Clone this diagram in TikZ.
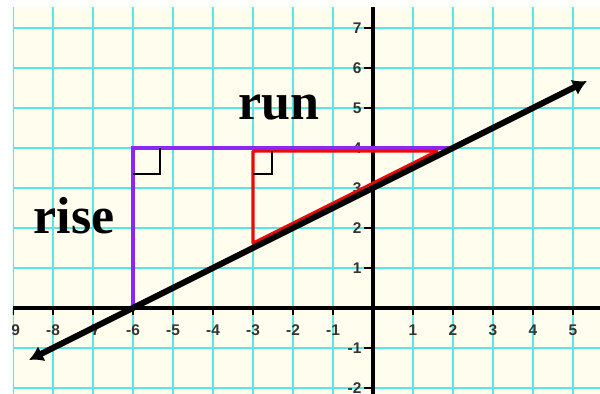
\documentclass[tikz,border=0pt]{standalone}
\usepackage{fontspec}
\setmainfont{Liberation Serif}
\newfontfamily\axisfont{Liberation Sans}
\usepackage{xcolor}
\usepackage{tikz}
\usetikzlibrary{arrows.meta}
\definecolor{paper}{RGB}{255,254,238}
\definecolor{gridcyan}{RGB}{90,230,230}
\definecolor{risepurple}{RGB}{140,40,245}
\definecolor{runred}{RGB}{235,10,10}

\begin{document}
\begin{tikzpicture}[>=Latex,line width=0.7pt,
  ticklabel/.style={font=\axisfont\bfseries\fontsize{11}{11}\selectfont,text=black!80,inner sep=1pt},
  wordlabel/.style={font=\bfseries\fontsize{37}{40}\selectfont,inner sep=0pt,anchor=base west}]
  \useasboundingbox[fill=white] (-9.325,-2.15) rectangle (5.675,7.7);
  \begin{scope}
    \clip (-9,-2.15) rectangle (5.675,7.525);
    \fill[paper] (-9,-2.15) rectangle (5.675,7.525);
    \draw[gridcyan,line width=1.3pt] (-9,-2.15) grid (5.675,7.525);
    \draw[line width=2.6pt] (-9,0) -- (5.675,0);
    \draw[line width=2.6pt] (0,-2.15) -- (0,7.525);
    \foreach \x in {-9,...,-1,1,2,...,5}
      \draw[line width=2pt] (\x,0) -- (\x,-0.17) node[ticklabel,anchor=north] at (\x,-0.35) {\x};
    \foreach \y in {-2,-1,1,2,...,7}
      \draw[line width=2pt] (0,\y) -- (-0.22,\y) node[ticklabel,left] {\y};
    \coordinate (P) at (-6,0);
    \coordinate (Q) at (-6,4);
    \coordinate (R) at (2,4);
    \coordinate (A) at (-3,1.62);
    \coordinate (B) at (-3,3.92);
    \coordinate (C) at (1.6,3.92);
    \draw[risepurple,line width=2.2pt] (P) -- (Q) -- (R);
    \draw[runred,line width=2.2pt,line join=round] (A) -- (B) -- (C) -- cycle;
    \draw[line width=1.4pt] (Q) ++(0,-0.64) -| ++(0.67,0.64);
    \draw[line width=1.4pt] (B) ++(0,-0.58) -| ++(0.48,0.58);
    \coordinate (lo) at (-8.6,-1.3);
    \coordinate (hi) at (5.35,5.675);
    \draw[{Latex[length=10pt,width=12pt]}-{Latex[length=10pt,width=12pt]},line width=4.3pt] (lo) -- (hi);
    \node[wordlabel] (run) at (-3.375,4.72) {run};
    \node[wordlabel] (rise) at (-8.5,1.87) {rise};
  \end{scope}
\end{tikzpicture}
\end{document}
